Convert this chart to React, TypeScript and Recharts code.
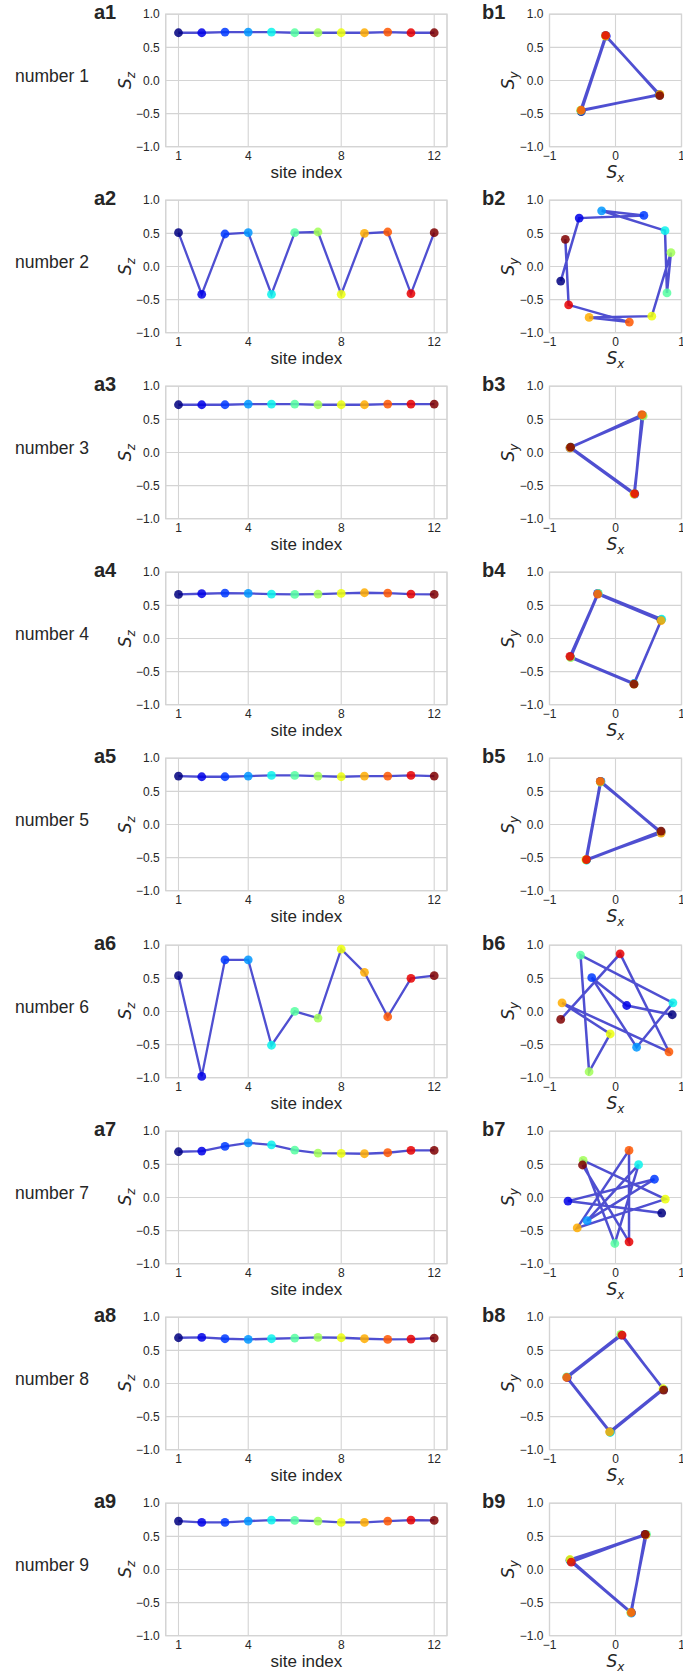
import React from "react";
import { LineChart, Line, XAxis, YAxis, CartesianGrid, ScatterChart, Scatter, Cell, ReferenceArea } from "recharts";

const SITES = [1, 2, 3, 4, 5, 6, 7, 8, 9, 10, 11, 12];
const JET = ["#00007f", "#0000e8", "#003aff", "#0097ff", "#0bf3eb", "#56ffa1", "#a1ff56", "#ecff0b", "#ffad00", "#ff5700", "#e80000", "#7f0000"];
const SZ_TICKS = [-1, -0.5, 0, 0.5, 1];
const SITE_TICKS = [1, 4, 8, 12];
const SX_TICKS = [-1, 0, 1];

// S_z per site, one array per state
const SZ_1 = [0.72, 0.72, 0.73, 0.73, 0.73, 0.72, 0.72, 0.72, 0.72, 0.73, 0.72, 0.72];
const SZ_2 = [0.51, -0.42, 0.49, 0.51, -0.42, 0.51, 0.52, -0.42, 0.5, 0.52, -0.41, 0.51];
const SZ_3 = [0.72, 0.72, 0.72, 0.73, 0.73, 0.73, 0.72, 0.72, 0.72, 0.73, 0.73, 0.73];
const SZ_4 = [0.665, 0.675, 0.685, 0.68, 0.67, 0.665, 0.67, 0.68, 0.69, 0.685, 0.67, 0.665];
const SZ_5 = [0.73, 0.72, 0.72, 0.73, 0.74, 0.74, 0.73, 0.72, 0.73, 0.73, 0.74, 0.73];
const SZ_6 = [0.54, -0.98, 0.78, 0.78, -0.51, 0.0, -0.1, 0.94, 0.59, -0.08, 0.5, 0.54];
const SZ_7 = [0.69, 0.7, 0.77, 0.825, 0.795, 0.715, 0.67, 0.665, 0.66, 0.675, 0.71, 0.71];
const SZ_8 = [0.69, 0.695, 0.675, 0.665, 0.675, 0.685, 0.695, 0.69, 0.675, 0.665, 0.67, 0.685];
const SZ_9 = [0.73, 0.71, 0.71, 0.73, 0.745, 0.74, 0.73, 0.71, 0.71, 0.73, 0.745, 0.74];

// in-plane components (S_x, S_y) per site
const SX_1 = [-0.52, -0.14, 0.66, -0.52, -0.15, 0.67, -0.53, -0.15, 0.67, -0.52, -0.15, 0.67];
const SY_1 = [-0.47, 0.67, -0.21, -0.46, 0.68, -0.22, -0.45, 0.67, -0.21, -0.45, 0.68, -0.23];
const SX_2 = [-0.83, -0.55, 0.43, -0.21, 0.75, 0.78, 0.84, 0.55, -0.4, 0.21, -0.71, -0.76];
const SY_2 = [-0.22, 0.73, 0.77, 0.84, 0.54, -0.4, 0.21, -0.75, -0.77, -0.84, -0.58, 0.41];
const SX_3 = [0.41, 0.29, -0.69, 0.4, 0.29, -0.68, 0.42, 0.28, -0.69, 0.4, 0.29, -0.68];
const SY_3 = [0.56, -0.63, 0.07, 0.56, -0.62, 0.08, 0.55, -0.63, 0.07, 0.57, -0.62, 0.08];
const SX_4 = [0.69, -0.27, -0.68, 0.28, 0.7, -0.26, -0.68, 0.28, 0.69, -0.27, -0.69, 0.28];
const SY_4 = [0.28, 0.68, -0.28, -0.68, 0.29, 0.68, -0.29, -0.69, 0.27, 0.67, -0.27, -0.69];
const SX_5 = [-0.23, -0.44, 0.69, -0.22, -0.44, 0.69, -0.23, -0.45, 0.69, -0.23, -0.44, 0.69];
const SY_5 = [0.65, -0.53, -0.12, 0.65, -0.54, -0.11, 0.64, -0.53, -0.13, 0.65, -0.53, -0.1];
const SX_6 = [0.86, 0.17, -0.36, 0.32, 0.87, -0.53, -0.4, -0.08, -0.81, 0.81, 0.07, -0.83];
const SY_6 = [-0.05, 0.09, 0.51, -0.54, 0.13, 0.85, -0.91, -0.34, 0.13, -0.61, 0.87, -0.12];
const SX_7 = [0.7, -0.72, 0.59, -0.43, 0.35, -0.01, -0.49, 0.755, -0.58, 0.205, 0.205, -0.5];
const SY_7 = [-0.235, -0.055, 0.275, -0.35, 0.495, -0.695, 0.56, -0.025, -0.46, 0.71, -0.67, 0.49];
const SX_8 = [-0.08, -0.73, 0.09, 0.73, -0.08, -0.74, 0.08, 0.72, -0.09, -0.74, 0.1, 0.73];
const SY_8 = [-0.73, 0.09, 0.73, -0.09, -0.74, 0.1, 0.74, -0.08, -0.73, 0.09, 0.73, -0.1];
const SX_9 = [0.24, -0.69, 0.45, 0.24, -0.68, 0.47, 0.23, -0.69, 0.46, 0.24, -0.67, 0.45];
const SY_9 = [-0.65, 0.14, 0.53, -0.66, 0.12, 0.53, -0.65, 0.15, 0.52, -0.65, 0.11, 0.53];

const ROWS = [
  { n: 1, sz: SZ_1, sx: SX_1, sy: SY_1 },
  { n: 2, sz: SZ_2, sx: SX_2, sy: SY_2 },
  { n: 3, sz: SZ_3, sx: SX_3, sy: SY_3 },
  { n: 4, sz: SZ_4, sx: SX_4, sy: SY_4 },
  { n: 5, sz: SZ_5, sx: SX_5, sy: SY_5 },
  { n: 6, sz: SZ_6, sx: SX_6, sy: SY_6 },
  { n: 7, sz: SZ_7, sx: SX_7, sy: SY_7 },
  { n: 8, sz: SZ_8, sx: SX_8, sy: SY_8 },
  { n: 9, sz: SZ_9, sx: SX_9, sy: SY_9 },
];

const ROW_H = 186.1;
const GRID = "#d4d4d4";
const TEXT = "#262626";
const LINE = "#3c3ccc";
const FONT = "'Liberation Sans', Arial, sans-serif";
const MATH = "'DejaVu Sans', sans-serif";
const tickStyle = { fontSize: 12, fill: TEXT, fontFamily: FONT };

const minus = (v: number, d: number) => (v < 0 ? "\u2212" : "") + Math.abs(v).toFixed(d);

function JetDot(props: any) {
  const { cx, cy, index } = props;
  if (cx == null || cy == null) return <g key={`e${index}`} />;
  return <circle key={`d${index}`} cx={cx} cy={cy} r={4.4} fill={JET[index]} fillOpacity={0.85} />;
}

function JetShape(props: any) {
  return <circle cx={props.cx} cy={props.cy} r={4.4} fill={props.fill} fillOpacity={0.85} />;
}

function SzPanel({ sz, top }: { sz: number[]; top: number }) {
  const data = SITES.map((s, k) => ({ site: s, sz: sz[k] }));
  return (
    <div style={{ position: "absolute", left: 100, top }}>
      <LineChart width={360} height={186} data={data} margin={{ top: 14.2, right: 13, bottom: 9.3, left: 25.7 }}>
        <CartesianGrid stroke={GRID} strokeWidth={1.1} />
        <ReferenceArea x1={0.45} x2={12.55} y1={-1} y2={1} fill="none" stroke={GRID} strokeWidth={1.3} />
        <XAxis dataKey="site" type="number" domain={[0.45, 12.55]} ticks={SITE_TICKS} interval={0} allowDataOverflow
          axisLine={false} tickLine={false} tickSize={0} tickMargin={5} height={30} tick={tickStyle} />
        <YAxis type="number" domain={[-1, 1]} ticks={SZ_TICKS} interval={0} width={40}
          axisLine={false} tickLine={false} tickSize={0} tickMargin={6} tick={tickStyle} tickFormatter={(v: number) => minus(v, 1)} />
        <Line type="linear" dataKey="sz" stroke={LINE} strokeOpacity={0.9} strokeWidth={2.3} dot={JetDot} activeDot={false} isAnimationActive={false} />
      </LineChart>
    </div>
  );
}

function PlanePanel({ sx, sy, top }: { sx: number[]; sy: number[]; top: number }) {
  const pts = sx.map((x, k) => ({ sx: x, sy: sy[k] }));
  return (
    <div style={{ position: "absolute", left: 500, top }}>
      <ScatterChart width={183} height={186} margin={{ top: 14.2, right: 1.5, bottom: 9.3, left: 9.5 }}>
        <CartesianGrid stroke={GRID} strokeWidth={1.1} />
        <ReferenceArea x1={-1} x2={1} y1={-1} y2={1} fill="none" stroke={GRID} strokeWidth={1.3} />
        <XAxis dataKey="sx" type="number" domain={[-1, 1]} ticks={SX_TICKS} interval={0}
          axisLine={false} tickLine={false} tickSize={0} tickMargin={5} height={30} tick={tickStyle} tickFormatter={(v: number) => minus(v, 0)} />
        <YAxis dataKey="sy" type="number" domain={[-1, 1]} ticks={SZ_TICKS} interval={0} width={40}
          axisLine={false} tickLine={false} tickSize={0} tickMargin={6} tick={tickStyle} tickFormatter={(v: number) => minus(v, 1)} />
        <Scatter data={pts} fill={LINE} line={{ stroke: LINE, strokeWidth: 2.5, strokeOpacity: 0.9 }} shape={JetShape} isAnimationActive={false}>
          {pts.map((_, k) => <Cell key={k} fill={JET[k]} />)}
        </Scatter>
      </ScatterChart>
    </div>
  );
}

function MathLabel({ x, y, sub, rotate }: { x: number; y: number; sub: string; rotate?: boolean }) {
  return (
    <text transform={`translate(${x},${y})${rotate ? " rotate(-90)" : ""}`} textAnchor="middle" fill={TEXT} fontFamily={MATH}>
      <tspan fontStyle="italic" fontSize={17}>S</tspan>
      <tspan fontStyle="italic" fontSize={12} dy={4}>{sub}</tspan>
    </text>
  );
}

export default function App() {
  return (
    <div style={{ position: "absolute", left: 0, top: 0, width: 683, height: 1677, background: "#fff", overflow: "hidden" }}>
      {ROWS.map((r, i) => (
        <React.Fragment key={r.n}>
          <SzPanel sz={r.sz} top={i * ROW_H} />
          <PlanePanel sx={r.sx} sy={r.sy} top={i * ROW_H} />
        </React.Fragment>
      ))}
      <svg width={683} height={1677} style={{ position: "absolute", left: 0, top: 0, pointerEvents: "none" }}>
        {ROWS.map((r, i) => {
          const t = i * ROW_H;
          return (
            <g key={r.n}>
              <text x={15} y={t + 82} fontSize={17.5} fontFamily={FONT} fill={TEXT}>{`number ${r.n}`}</text>
              <text x={94} y={t + 19} fontSize={20} fontWeight="bold" fontFamily={FONT} fill={TEXT}>{`a${r.n}`}</text>
              <text x={482} y={t + 19} fontSize={20} fontWeight="bold" fontFamily={FONT} fill={TEXT}>{`b${r.n}`}</text>
              <text x={306.4} y={t + 178} fontSize={17} fontFamily={FONT} fill={TEXT} textAnchor="middle">site index</text>
              <MathLabel x={131} y={t + 80.4} sub="z" rotate />
              <MathLabel x={514} y={t + 80.4} sub="y" rotate />
              <MathLabel x={615.5} y={t + 178} sub="x" />
            </g>
          );
        })}
      </svg>
    </div>
  );
}
